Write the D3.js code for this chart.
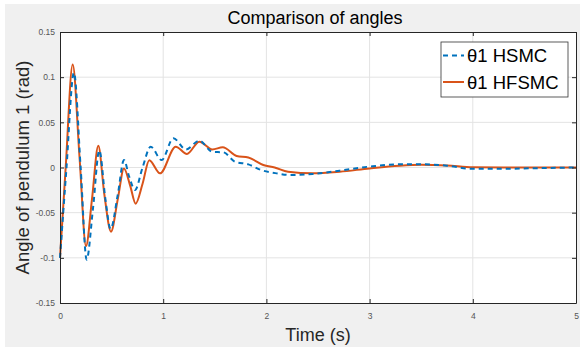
<!DOCTYPE html>
<html>
<head>
<meta charset="utf-8">
<script src="https://cdn.jsdelivr.net/npm/d3@7"></script>
<style>
  body { margin: 0; background: #fff; }
  text { font-family: "Liberation Sans", Arial, sans-serif; }
</style>
</head>
<body>
<div id="chart"></div>
<script>
// values
let xTicks = [0, 1, 2, 3, 4, 5]
let yTicks = [-0.15, -0.1, -0.05, 0, 0.05, 0.1, 0.15]

let hsmcT = [0, 0.06, 0.135, 0.2, 0.258, 0.32, 0.381, 0.44, 0.49, 0.56, 0.62, 0.67, 0.727, 0.8, 0.879, 0.985, 1.098, 1.22, 1.35, 1.48, 1.58, 1.696, 1.825, 1.95, 2.1, 2.23, 2.45, 2.71, 3.0, 3.29, 3.5, 3.75, 4.0, 4.3, 4.6, 5.0]
let hsmcY = [-0.1, -0.005, 0.105, 0.0, -0.102, -0.045, 0.019, -0.035, -0.068, -0.03, 0.0083, -0.01, -0.025, 0.0, 0.023, 0.0083, 0.0324, 0.020, 0.0297, 0.0172, 0.0169, 0.0064, 0.0035, -0.0028, -0.0065, -0.0083, -0.0072, -0.0035, 0.001, 0.0035, 0.0035, 0.002, -0.0015, -0.0015, -0.0008, 0.0]

let hfsmcT = [0, 0.055, 0.123, 0.19, 0.252, 0.31, 0.371, 0.43, 0.494, 0.56, 0.62, 0.68, 0.733, 0.8, 0.865, 0.969, 1.121, 1.23, 1.35, 1.476, 1.577, 1.712, 1.825, 1.97, 2.08, 2.21, 2.45, 2.71, 3.0, 3.29, 3.5, 3.75, 4.0, 4.3, 4.6, 5.0]
let hfsmcY = [-0.1, 0.0, 0.114, 0.01, -0.087, -0.035, 0.024, -0.03, -0.071, -0.035, -0.001, -0.02, -0.040, -0.018, 0.008, -0.0065, 0.023, 0.015, 0.0286, 0.020, 0.0224, 0.0128, 0.011, 0.0028, 0.0, -0.0047, -0.0065, -0.0047, -0.001, 0.002, 0.003, 0.0022, 0.0002, 0.0, 0.0, 0.0]

let W = 580, H = 347
let margin = { top: 32, left: 60, right: 4, bottom: 44 }
let width = W - margin.left - margin.right
let height = H - margin.top - margin.bottom

let svg = d3.select('#chart').append('svg')
  .attr('width', W)
  .attr('height', H)

// figure background
svg.append('rect')
  .attr('x', 5).attr('y', 4)
  .attr('width', W - 5).attr('height', H - 4)
  .attr('fill', '#f0f0f0')

let g = svg.append('g')
  .attr('transform', 'translate(' + margin.left + ',' + margin.top + ')')

g.append('rect')
  .attr('width', width)
  .attr('height', height)
  .attr('fill', '#fff')

let x = d3.scaleLinear().domain([0, 5]).range([0, width])
let y = d3.scaleLinear().domain([-0.15, 0.15]).range([height, 0])

// grid
g.append('g').selectAll('line')
  .data(xTicks.slice(1, -1))
  .enter().append('line')
  .attr('x1', d => x(d)).attr('x2', d => x(d))
  .attr('y1', 0).attr('y2', height)
  .attr('stroke', '#e3e3e3')
g.append('g').selectAll('line')
  .data(yTicks.slice(1, -1))
  .enter().append('line')
  .attr('x1', 0).attr('x2', width)
  .attr('y1', d => y(d)).attr('y2', d => y(d))
  .attr('stroke', '#e3e3e3')

// series
let line = d3.line()
  .x(d => x(d[0]))
  .y(d => y(d[1]))
  .curve(d3.curveMonotoneX)

g.append('path')
  .datum(hfsmcT.map((t, i) => [t, hfsmcY[i]]))
  .attr('d', line)
  .attr('fill', 'none')
  .attr('stroke', '#d95319')
  .attr('stroke-width', 2)

g.append('path')
  .datum(hsmcT.map((t, i) => [t, hsmcY[i]]))
  .attr('d', line)
  .attr('fill', 'none')
  .attr('stroke', '#0072bd')
  .attr('stroke-width', 2)
  .attr('stroke-dasharray', '5,4')

// axes
let fmt = d => d === 0 ? '0' : String(+d.toFixed(2))
let axisColor = '#262626'

function styleAxis(sel) {
  sel.select('.domain').attr('stroke', axisColor)
  sel.selectAll('.tick line').attr('stroke', axisColor)
  sel.selectAll('.tick text').attr('fill', '#555').style('font-size', '8.5px')
}

g.append('g')
  .attr('transform', 'translate(0,' + height + ')')
  .call(d3.axisBottom(x).tickValues(xTicks).tickFormat(fmt).tickSizeInner(-4).tickSizeOuter(0).tickPadding(10))
  .call(styleAxis)
g.append('g')
  .call(d3.axisTop(x).tickValues(xTicks).tickSizeInner(-4).tickSizeOuter(0).tickFormat(''))
  .call(styleAxis)
g.append('g')
  .call(d3.axisLeft(y).tickValues(yTicks).tickFormat(fmt).tickSizeInner(-4).tickSizeOuter(0).tickPadding(5))
  .call(styleAxis)
g.append('g')
  .attr('transform', 'translate(' + width + ',0)')
  .call(d3.axisRight(y).tickValues(yTicks).tickSizeInner(-4).tickSizeOuter(0).tickFormat(''))
  .call(styleAxis)

// titles
svg.append('text')
  .attr('x', margin.left + width / 2 - 3)
  .attr('y', 24)
  .attr('text-anchor', 'middle')
  .style('font-size', '18px')
  .attr('fill', '#000')
  .text('Comparison of angles')

svg.append('text')
  .attr('x', margin.left + width / 2)
  .attr('y', 341)
  .attr('text-anchor', 'middle')
  .style('font-size', '18px')
  .attr('fill', '#262626')
  .text('Time (s)')

svg.append('text')
  .attr('transform', 'translate(29,' + (margin.top + height / 2) + ') rotate(-90)')
  .attr('text-anchor', 'middle')
  .style('font-size', '18.5px')
  .attr('fill', '#262626')
  .text('Angle of pendulum 1 (rad)')

// legend
let legend = svg.append('g').attr('transform', 'translate(441,42)')
legend.append('rect')
  .attr('width', 127).attr('height', 55)
  .attr('fill', '#fff')
  .attr('stroke', '#333')
  .attr('stroke-width', 0.8)

let legendItems = [
  { name: 'θ1 HSMC', color: '#0072bd', dash: '5,4' },
  { name: 'θ1 HFSMC', color: '#d95319', dash: null }
]
legendItems.forEach((d, i) => {
  let yy = 13.5 + i * 26.5
  legend.append('line')
    .attr('x1', 2).attr('x2', 23)
    .attr('y1', yy).attr('y2', yy)
    .attr('stroke', d.color)
    .attr('stroke-width', 2)
    .attr('stroke-dasharray', d.dash)
  legend.append('text')
    .attr('x', 26)
    .attr('y', yy + 6.5)
    .style('font-size', '18.5px')
    .attr('fill', '#000')
    .text(d.name)
})
</script>
</body>
</html>
